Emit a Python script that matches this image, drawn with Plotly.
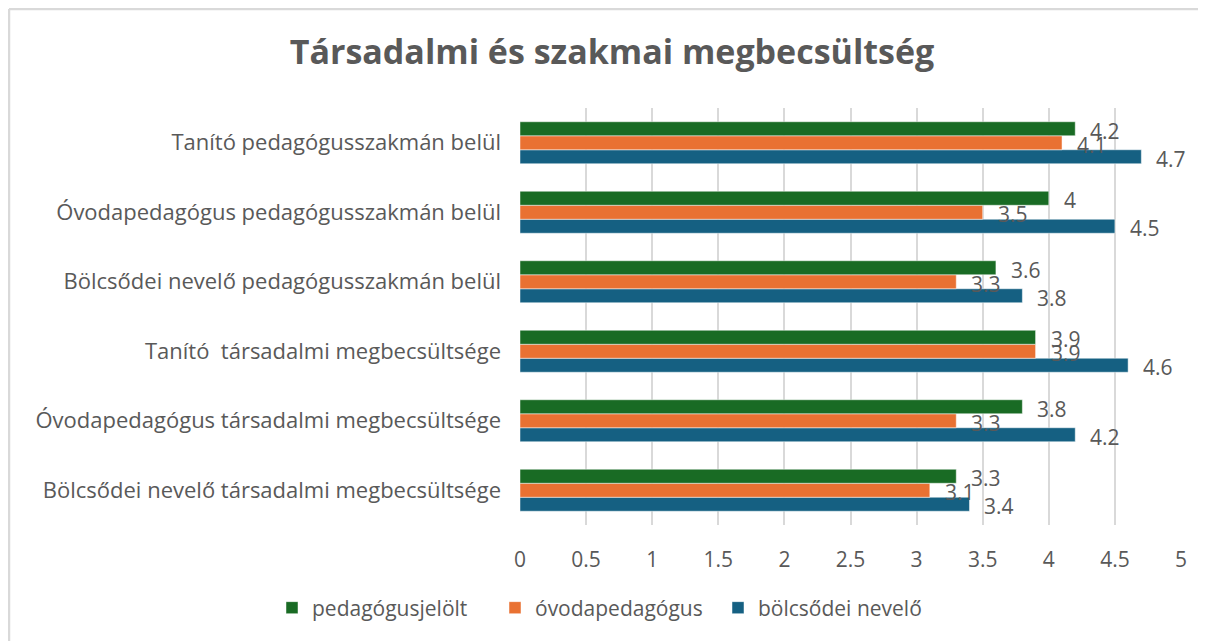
import plotly.graph_objects as go

categories = [
    "Bölcsődei nevelő társadalmi megbecsültsége",
    "Óvodapedagógus társadalmi megbecsültsége",
    "Tanító  társadalmi megbecsültsége",
    "Bölcsődei nevelő pedagógusszakmán belül",
    "Óvodapedagógus pedagógusszakmán belül",
    "Tanító pedagógusszakmán belül",
]
pedagogusjelolt = [3.3, 3.8, 3.9, 3.6, 4.0, 4.2]
ovodapedagogus = [3.1, 3.3, 3.9, 3.3, 3.5, 4.1]
bolcsodei_nevelo = [3.4, 4.2, 4.6, 3.8, 4.5, 4.7]
x_ticks = [0, 0.5, 1, 1.5, 2, 2.5, 3, 3.5, 4, 4.5, 5]
x_tick_labels = ["0", "0.5", "1", "1.5", "2", "2.5", "3", "3.5", "4", "4.5", "5"]

FONT = "Open Sans"
TXT = "#595959"

series = [
    ("bölcsődei nevelő", bolcsodei_nevelo, "#156082", 3),
    ("óvodapedagógus", ovodapedagogus, "#E97132", 2),
    ("pedagógusjelölt", pedagogusjelolt, "#196B24", 1),
]

W, H = 1206, 641
L, R, T, B = 512, 33, 100, 124
PW, PH = W - L - R, H - T - B

bargap = 0.396
bw = (1 - bargap) / len(series)

fig = go.Figure()
annotations = []
for k, (name, vals, color, rank) in enumerate(series):
    fig.add_trace(go.Bar(
        name=name, y=categories, x=vals, orientation="h",
        marker=dict(color=color, line=dict(color="rgba(255,255,255,0.6)", width=0.8)),
        legendrank=rank,
    ))
    off = (k - (len(series) - 1) / 2) * bw
    for i, v in enumerate(vals):
        annotations.append(dict(
            x=v, y=i + off, xref="x", yref="y", text=f"{v:g}",
            showarrow=False, xanchor="left", yanchor="middle",
            xshift=13, yshift=-2,
            font=dict(family=FONT, size=21, color=TXT),
        ))

fig.update_layout(
    width=W, height=H,
    paper_bgcolor="white", plot_bgcolor="white",
    barmode="group", bargap=bargap, bargroupgap=0,
    margin=dict(l=L, r=R, t=T, b=B),
    title=dict(text="<b>Társadalmi és szakmai megbecsültség</b>",
               x=604 / W, xref="container", xanchor="center",
               y=1 - 44 / H, yref="container", yanchor="middle",
               font=dict(family=FONT, size=34, color=TXT)),
    font=dict(family=FONT, size=21, color=TXT),
    legend=dict(orientation="h", x=(287 - 8 - 15 - L) / PW, xanchor="left",
                xref="paper", y=-(600 - (H - B)) / PH, yref="paper",
                yanchor="middle",
                font=dict(family=FONT, size=21, color=TXT),
                itemwidth=30, traceorder="normal",
                entrywidth=178, entrywidthmode="pixels"),
    annotations=annotations,
    shapes=[
        dict(type="line", xref="paper", yref="paper",
             x0=(1 - L) / PW, x1=1 + R / PW, y0=1 + (T - 1) / PH, y1=1 + (T - 1) / PH,
             line=dict(color="#D9D9D9", width=2.5)),
        dict(type="line", xref="paper", yref="paper",
             x0=(1 - L) / PW, x1=(1 - L) / PW, y0=1 + (T - 1) / PH, y1=-B / PH,
             line=dict(color="#D9D9D9", width=2.5)),
    ],
)
fig.update_xaxes(range=[0, 5], tickvals=x_ticks, ticktext=x_tick_labels,
                 showgrid=True, gridcolor="#D9D9D9", gridwidth=1.5,
                 zeroline=False, showline=False, ticks="", ticklabelstandoff=20,
                 tickfont=dict(family=FONT, size=21, color=TXT))
fig.update_yaxes(showgrid=False, showline=False, ticks="", ticklabelstandoff=18,
                 tickfont=dict(family=FONT, size=22, color=TXT))

fig.write_html("out.html")
